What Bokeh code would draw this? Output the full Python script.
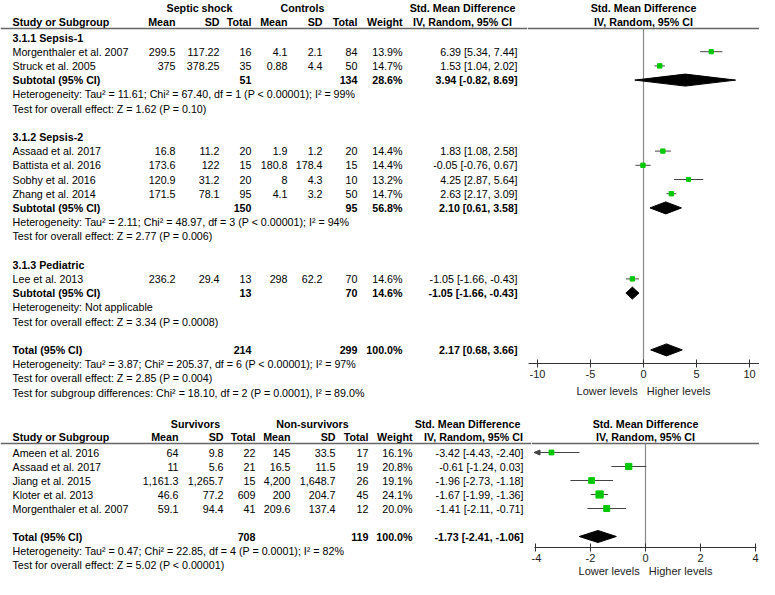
import numpy as np
from bokeh.plotting import figure
from bokeh.models import Range1d, LinearAxis, FixedTicker, ColumnDataSource
from bokeh.layouts import column, row
from bokeh.core.properties import value
from bokeh.embed import file_html
from bokeh.resources import INLINE

FONT = "Liberation Sans"
FS = "10.7px"
GREEN = "#00C800"
LINE = "#444444"
NBSP3 = "\u00a0\u00a0\u00a0"

# ---------------- top panel data ----------------
top_group_labels = ["Septic shock", "Controls"]
top_groups = ["3.1.1 Sepsis-1", "3.1.2 Sepsis-2", "3.1.3 Pediatric"]
top_study = ["Morgenthaler et al. 2007", "Struck et al. 2005", "Assaad et al. 2017",
             "Battista et al. 2016", "Sobhy et al. 2016", "Zhang et al. 2014", "Lee et al. 2013"]
top_group_of = [0, 0, 1, 1, 1, 1, 2]
top_e_mean = ["299.5", "375", "16.8", "173.6", "120.9", "171.5", "236.2"]
top_e_sd = ["117.22", "378.25", "11.2", "122", "31.2", "78.1", "29.4"]
top_e_n = [16, 35, 20, 15, 20, 95, 13]
top_c_mean = ["4.1", "0.88", "1.9", "180.8", "8", "4.1", "298"]
top_c_sd = ["2.1", "4.4", "1.2", "178.4", "4.3", "3.2", "62.2"]
top_c_n = [84, 50, 20, 15, 10, 50, 70]
top_weight = [13.9, 14.7, 14.4, 14.4, 13.2, 14.7, 14.6]
top_smd = [6.39, 1.53, 1.83, -0.05, 4.25, 2.63, -1.05]
top_lo = [5.34, 1.04, 1.08, -0.76, 2.87, 2.17, -1.66]
top_hi = [7.44, 2.02, 2.58, 0.67, 5.64, 3.09, -0.43]
top_sub_e_n = [51, 150, 13]
top_sub_c_n = [134, 95, 70]
top_sub_weight = [28.6, 56.8, 14.6]
top_sub_smd = [3.94, 2.10, -1.05]
top_sub_lo = [-0.82, 0.61, -1.66]
top_sub_hi = [8.69, 3.58, -0.43]
top_sub_het = ["Heterogeneity: Tau\u00b2 = 11.61; Chi\u00b2 = 67.40, df = 1 (P < 0.00001); I\u00b2 = 99%",
               "Heterogeneity: Tau\u00b2 = 2.11; Chi\u00b2 = 48.97, df = 3 (P < 0.00001); I\u00b2 = 94%",
               "Heterogeneity: Not applicable"]
top_sub_test = ["Test for overall effect: Z = 1.62 (P = 0.10)",
                "Test for overall effect: Z = 2.77 (P = 0.006)",
                "Test for overall effect: Z = 3.34 (P = 0.0008)"]
top_total = dict(e_n=214, c_n=299, weight=100.0, smd=2.17, lo=0.68, hi=3.66)
top_total_het = "Heterogeneity: Tau\u00b2 = 3.87; Chi\u00b2 = 205.37, df = 6 (P < 0.00001); I\u00b2 = 97%"
top_total_test = "Test for overall effect: Z = 2.85 (P = 0.004)"
top_subgroup_test = "Test for subgroup differences: Chi\u00b2 = 18.10, df = 2 (P = 0.0001), I\u00b2 = 89.0%"
top_ticks = [-10, -5, 0, 5, 10]
top_tick_labels = ["-10", "-5", "0", "5", "10"]

# ---------------- bottom panel data ----------------
bot_group_labels = ["Survivors", "Non-survivors"]
bot_study = ["Ameen et al. 2016", "Assaad et al. 2017", "Jiang et al. 2015",
             "Kloter et al. 2013", "Morgenthaler et al. 2007"]
bot_e_mean = ["64", "11", "1,161.3", "46.6", "59.1"]
bot_e_sd = ["9.8", "5.6", "1,265.7", "77.2", "94.4"]
bot_e_n = [22, 21, 15, 609, 41]
bot_c_mean = ["145", "16.5", "4,200", "200", "209.6"]
bot_c_sd = ["33.5", "11.5", "1,648.7", "204.7", "137.4"]
bot_c_n = [17, 19, 26, 45, 12]
bot_weight = [16.1, 20.8, 19.1, 24.1, 20.0]
bot_smd = [-3.42, -0.61, -1.96, -1.67, -1.41]
bot_lo = [-4.43, -1.24, -2.73, -1.99, -2.11]
bot_hi = [-2.40, 0.03, -1.18, -1.36, -0.71]
bot_total = dict(e_n=708, c_n=119, weight=100.0, smd=-1.73, lo=-2.41, hi=-1.06)
bot_total_het = "Heterogeneity: Tau\u00b2 = 0.47; Chi\u00b2 = 22.85, df = 4 (P = 0.0001); I\u00b2 = 82%"
bot_total_test = "Test for overall effect: Z = 5.02 (P < 0.00001)"
bot_ticks = [-4, -2, 0, 2, 4]
bot_tick_labels = ["-4", "-2", "0", "2", "4"]

header_cols = ["Mean", "SD", "Total", "Mean", "SD", "Total", "Weight"]
smd_title = "Std. Mean Difference"
smd_sub = "IV, Random, 95% CI"
study_title = "Study or Subgroup"
axis_left_label = "Lower levels"
axis_right_label = "Higher levels"


def fmt_w(w):
    return f"{w:.1f}%"


def fmt_smd(s, lo, hi):
    return f"{s:.2f} [{lo:.2f}, {hi:.2f}]"


def make_fig(width, height, xr, y_top, frame_bottom):
    p = figure(width=width, height=height, x_range=xr,
               y_range=Range1d(frame_bottom, y_top), output_backend="svg",
               toolbar_location=None, x_axis_type=None, y_axis_type=None, title=None,
               min_border_left=0, min_border_right=0, min_border_top=0,
               min_border_bottom=height - int(round(frame_bottom - y_top)))
    p.frame_align = False
    p.outline_line_color = None
    p.background_fill_color = "white"
    p.border_fill_color = "white"
    return p


def add_text(p, xs, ys, texts, align="left", bold=False, size=FS):
    src = ColumnDataSource(dict(x=list(xs), y=list(ys), text=list(texts)))
    p.text(x="x", y="y", text="text", source=src, text_align=align,
           text_baseline="middle", text_font=value(FONT), text_font_size=size,
           text_font_style="bold" if bold else "normal", text_color="black")


def add_axis(p, ticks, labels, bounds, label_standoff):
    ax = LinearAxis(ticker=FixedTicker(ticks=ticks), bounds=bounds,
                    axis_label=axis_left_label + NBSP3 + axis_right_label)
    ax.major_label_overrides = dict(zip(ticks, labels))
    ax.major_tick_in = 4
    ax.major_tick_out = 4
    ax.minor_tick_line_color = None
    ax.axis_line_color = "#333333"
    ax.major_tick_line_color = "#333333"
    ax.major_label_text_font = FONT
    ax.major_label_text_font_size = "11px"
    ax.major_label_text_color = "#222222"
    ax.major_label_standoff = 2
    ax.axis_label_text_font = FONT
    ax.axis_label_text_font_size = "11px"
    ax.axis_label_text_font_style = "normal"
    ax.axis_label_text_color = "#222222"
    ax.axis_label_standoff = label_standoff
    p.add_layout(ax, "below")


NAME_X = 12
DH = 6

# =============== TOP ROW ===============
H1 = 413
SPLIT_T = 527
T_AXIS = 363
T_Y0, T_DY = 37.0, 14.2
T_ZERO, T_SCALE = 643.0, 10.6
TH1, TH2, TLINE = 7, 21, 28

tl = make_fig(SPLIT_T, H1, Range1d(0, SPLIT_T), 0, H1)
ft_start = (SPLIT_T - T_ZERO) / T_SCALE
ft_end = (759 - T_ZERO) / T_SCALE
tr = make_fig(759 - SPLIT_T, H1, Range1d(ft_start, ft_end), 0, T_AXIS)

i = 0
top_study_y = [0.0] * len(top_study)
top_group_y, top_sub_y, top_het_y, top_test_y = [], [], [], []
for g in range(len(top_groups)):
    top_group_y.append(T_Y0 + i * T_DY); i += 1
    for k, gg in enumerate(top_group_of):
        if gg == g:
            top_study_y[k] = T_Y0 + i * T_DY; i += 1
    top_sub_y.append(T_Y0 + i * T_DY); i += 1
    top_het_y.append(T_Y0 + i * T_DY); i += 1
    top_test_y.append(T_Y0 + i * T_DY); i += 1
    i += 1
top_total_y = T_Y0 + i * T_DY; i += 1
top_total_het_y = T_Y0 + i * T_DY; i += 1
top_total_test_y = T_Y0 + i * T_DY; i += 1
top_subgroup_y = T_Y0 + i * T_DY

t_cols = [175, 219, 251, 287, 322, 357, 402]
t_smd_x = 517
t_grp_x = [199, 302]
t_smd_hdr_x = 462

add_text(tl, t_grp_x, [TH1] * 2, top_group_labels, "center", True)
add_text(tl, [t_smd_hdr_x], [TH1], [smd_title], "center", True)
add_text(tl, [NAME_X], [TH2], [study_title], "left", True)
add_text(tl, t_cols, [TH2] * 7, header_cols, "right", True)
add_text(tl, [t_smd_hdr_x], [TH2], [smd_sub], "center", True)
tl.segment(x0=[0], y0=[TLINE], x1=[SPLIT_T], y1=[TLINE], line_color="#666666", line_width=1.5)
add_text(tr, [0], [TH1], [smd_title], "center", True)
add_text(tr, [0], [TH2], [smd_sub], "center", True)
tr.segment(x0=[ft_start], y0=[TLINE], x1=[ft_end], y1=[TLINE], line_color="#666666", line_width=1.5)

add_text(tl, [NAME_X] * len(top_study), top_study_y, top_study, "left")
for col, vals in zip(t_cols, [top_e_mean, top_e_sd, top_e_n, top_c_mean, top_c_sd, top_c_n,
                              [fmt_w(w) for w in top_weight]]):
    add_text(tl, [col] * len(vals), top_study_y, [str(v) for v in vals], "right")
add_text(tl, [t_smd_x] * len(top_study), top_study_y,
         [fmt_smd(s, l, h) for s, l, h in zip(top_smd, top_lo, top_hi)], "right")

add_text(tl, [NAME_X] * 3, top_group_y, top_groups, "left", True)
add_text(tl, [NAME_X] * 3, top_sub_y, ["Subtotal (95% CI)"] * 3, "left", True)
add_text(tl, [t_cols[2]] * 3, top_sub_y, [str(v) for v in top_sub_e_n], "right", True)
add_text(tl, [t_cols[5]] * 3, top_sub_y, [str(v) for v in top_sub_c_n], "right", True)
add_text(tl, [t_cols[6]] * 3, top_sub_y, [fmt_w(w) for w in top_sub_weight], "right", True)
add_text(tl, [t_smd_x] * 3, top_sub_y,
         [fmt_smd(s, l, h) for s, l, h in zip(top_sub_smd, top_sub_lo, top_sub_hi)], "right", True)
add_text(tl, [NAME_X] * 3, top_het_y, top_sub_het, "left")
add_text(tl, [NAME_X] * 3, top_test_y, top_sub_test, "left")

add_text(tl, [NAME_X], [top_total_y], ["Total (95% CI)"], "left", True)
add_text(tl, [t_cols[2], t_cols[5], t_cols[6], t_smd_x], [top_total_y] * 4,
         [str(top_total["e_n"]), str(top_total["c_n"]), fmt_w(top_total["weight"]),
          fmt_smd(top_total["smd"], top_total["lo"], top_total["hi"])], "right", True)
add_text(tl, [NAME_X] * 3, [top_total_het_y, top_total_test_y, top_subgroup_y],
         [top_total_het, top_total_test, top_subgroup_test], "left")

tr.segment(x0=[0], y0=[TLINE], x1=[0], y1=[T_AXIS], line_color="#8a8a8a", line_width=1.2)
tr.segment(x0=top_lo, y0=top_study_y, x1=top_hi, y1=top_study_y, line_color=LINE, line_width=1)
tr.scatter(x=top_smd, y=top_study_y, marker="square", size=[0.3 * w for w in top_weight],
           fill_color=GREEN, line_color=GREEN)
d_x = [[l, s, h, s] for s, l, h in zip(top_sub_smd + [top_total["smd"]],
                                        top_sub_lo + [top_total["lo"]],
                                        top_sub_hi + [top_total["hi"]])]
d_y = [[y, y - DH, y, y + DH] for y in top_sub_y + [top_total_y]]
tr.patches(xs=d_x, ys=d_y, fill_color="black", line_color="black")
add_axis(tr, top_ticks, top_tick_labels, (-10.85, 10.9), 4)

# =============== BOTTOM ROW ===============
H2 = 579 - H1
SPLIT_B = 531
B_AXIS = 547
B_Y0, B_DY = 452.0, 14.0
B_ZERO, B_SCALE = 645.0, 27.5
BH1, BH2, BLINE = 423, 436, 443

bl = make_fig(SPLIT_B, H2, Range1d(0, SPLIT_B), H1, 579)
fb_start = (SPLIT_B - B_ZERO) / B_SCALE
fb_end = (759 - B_ZERO) / B_SCALE
br = make_fig(759 - SPLIT_B, H2, Range1d(fb_start, fb_end), H1, B_AXIS)

bot_study_y = [B_Y0 + k * B_DY for k in range(len(bot_study))]
bot_total_y = B_Y0 + (len(bot_study) + 1) * B_DY
bot_total_het_y = bot_total_y + B_DY
bot_total_test_y = bot_total_y + 2 * B_DY

b_cols = [178, 223, 255, 290, 335, 368, 412]
b_smd_x = 523
b_grp_x = [195, 312]

add_text(bl, b_grp_x, [BH1] * 2, bot_group_labels, "center", True)
add_text(bl, [467], [BH1], [smd_title], "center", True)
add_text(bl, [NAME_X], [BH2], [study_title], "left", True)
add_text(bl, b_cols, [BH2] * 7, header_cols, "right", True)
add_text(bl, [473], [BH2], [smd_sub], "center", True)
bl.segment(x0=[0], y0=[BLINE], x1=[SPLIT_B], y1=[BLINE], line_color="#666666", line_width=1.5)
add_text(br, [0], [BH1], [smd_title], "center", True)
add_text(br, [0], [BH2], [smd_sub], "center", True)
br.segment(x0=[fb_start], y0=[BLINE], x1=[fb_end], y1=[BLINE], line_color="#666666", line_width=1.5)

add_text(bl, [NAME_X] * len(bot_study), bot_study_y, bot_study, "left")
for col, vals in zip(b_cols, [bot_e_mean, bot_e_sd, bot_e_n, bot_c_mean, bot_c_sd, bot_c_n,
                              [fmt_w(w) for w in bot_weight]]):
    add_text(bl, [col] * len(vals), bot_study_y, [str(v) for v in vals], "right")
add_text(bl, [b_smd_x] * len(bot_study), bot_study_y,
         [fmt_smd(s, l, h) for s, l, h in zip(bot_smd, bot_lo, bot_hi)], "right")

add_text(bl, [NAME_X], [bot_total_y], ["Total (95% CI)"], "left", True)
add_text(bl, [b_cols[2], b_cols[5], b_cols[6], b_smd_x], [bot_total_y] * 4,
         [str(bot_total["e_n"]), str(bot_total["c_n"]), fmt_w(bot_total["weight"]),
          fmt_smd(bot_total["smd"], bot_total["lo"], bot_total["hi"])], "right", True)
add_text(bl, [NAME_X] * 2, [bot_total_het_y, bot_total_test_y],
         [bot_total_het, bot_total_test], "left")

axis_min = bot_ticks[0]
br.segment(x0=[0], y0=[BLINE], x1=[0], y1=[B_AXIS], line_color="#8a8a8a", line_width=1.2)
lo_clip = list(np.maximum(np.array(bot_lo), axis_min))
br.segment(x0=lo_clip, y0=bot_study_y, x1=bot_hi, y1=bot_study_y, line_color=LINE, line_width=1)
ar_y = [y for y, l in zip(bot_study_y, bot_lo) if l < axis_min]
AL = 6 / B_SCALE
tip = axis_min - 1.5 / B_SCALE
br.patches(xs=[[tip, tip + AL, tip + AL] for _ in ar_y],
           ys=[[y, y - 2.5, y + 2.5] for y in ar_y], fill_color=LINE, line_color=LINE)
br.scatter(x=bot_smd, y=bot_study_y, marker="square", size=[0.3 * w for w in bot_weight],
           fill_color=GREEN, line_color=GREEN)
br.patches(xs=[[bot_total["lo"], bot_total["smd"], bot_total["hi"], bot_total["smd"]]],
           ys=[[bot_total_y, bot_total_y - DH, bot_total_y, bot_total_y + DH]],
           fill_color="black", line_color="black")
add_axis(br, bot_ticks, bot_tick_labels, (-4.02, 4.04), 0)

layout = column(row(tl, tr, spacing=0), row(bl, br, spacing=0), spacing=0)
open("out.html", "w").write(file_html(layout, INLINE))
